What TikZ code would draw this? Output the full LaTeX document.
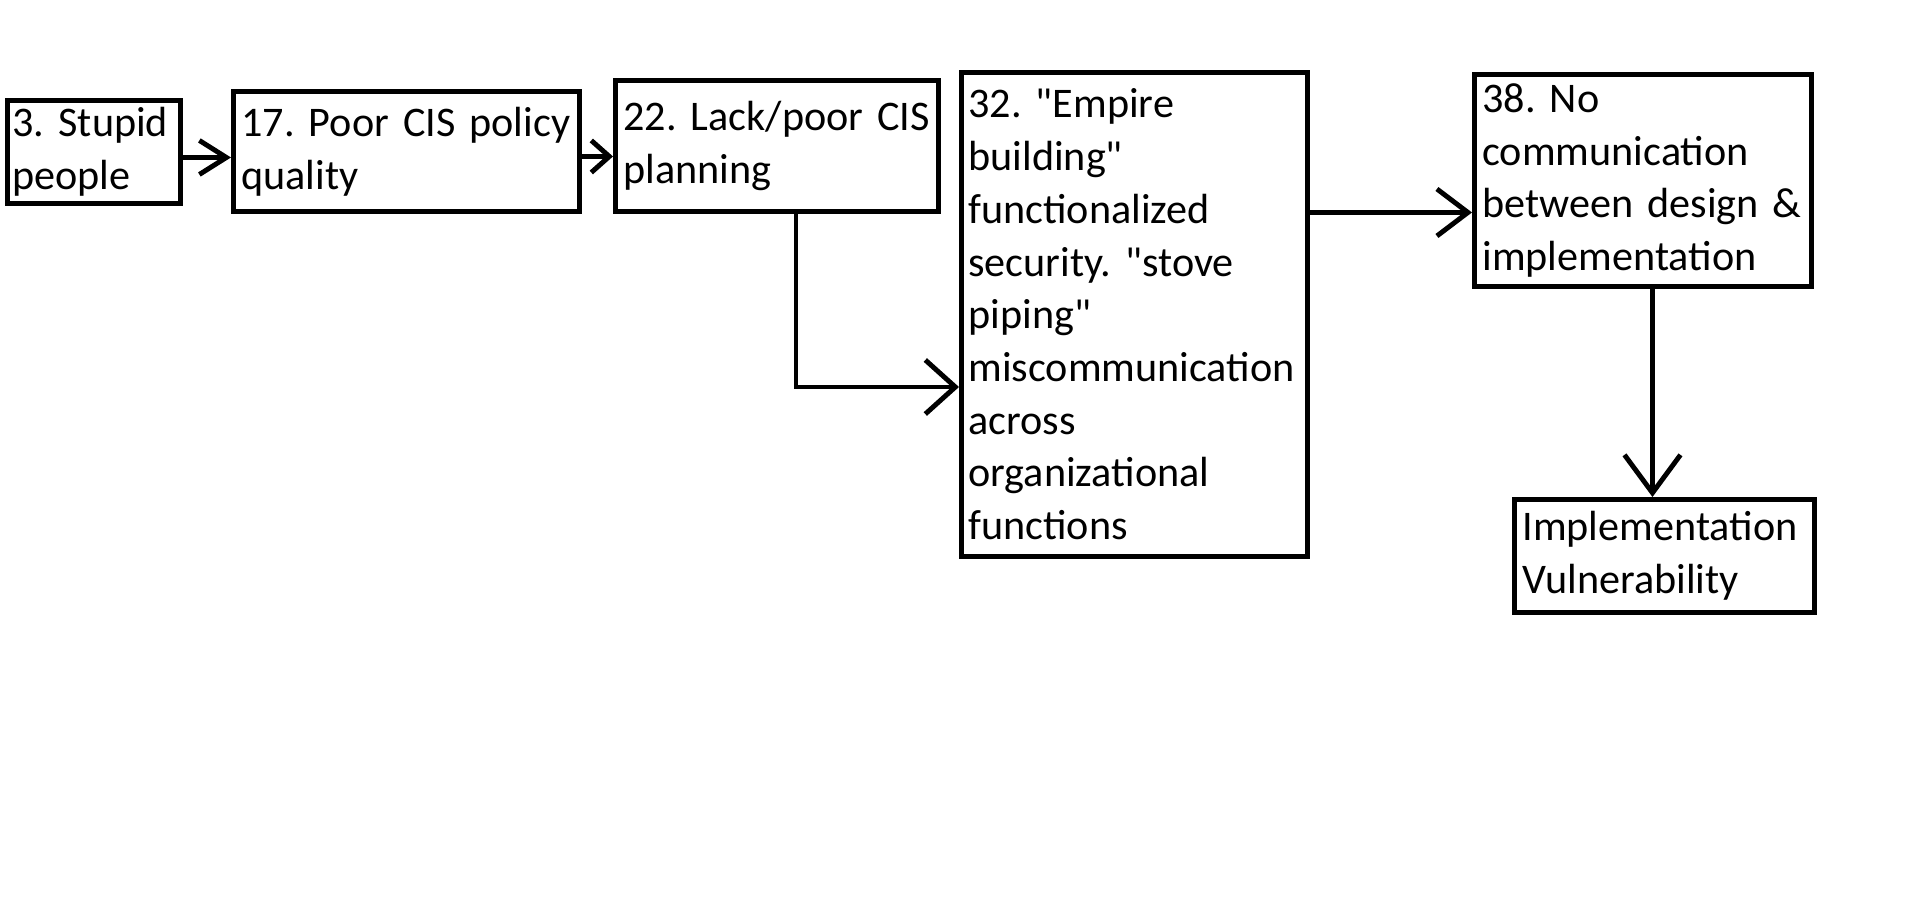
\documentclass[tikz,border=0pt]{standalone}
\usepackage{fontspec}
\setmainfont{Carlito}
\usetikzlibrary{arrows.meta, positioning, calc}
\newcommand{\dq}{\textquotedbl}

\begin{document}
\begin{tikzpicture}[
    cbox/.style={rectangle, draw=black, line width=1.4pt, anchor=north west, align=left,
                 inner xsep=0.8mm, inner ysep=0pt, text width=#1,
                 font=\fontsize{12}{15}\selectfont,
                 execute at begin node={\frenchspacing\hyphenpenalty=10000}},
    arr/.style 2 args={-{Straight Barb[length=#1, width=#2]}, line width=1.4pt}
]
\useasboundingbox (0,0) rectangle (19.14,-9.03);

\node[cbox=1.63cm, inner xsep=0.5mm, minimum height=1.03cm] (b3) at (0.05,-0.98) {3. Stupid\\people};
\node[cbox=3.30cm, minimum height=1.20cm] (b17) at (2.31,-0.89) {17. Poor~CIS~policy\\quality};
\node[cbox=3.07cm, minimum height=1.31cm] (b22) at (6.13,-0.78) {22. Lack/poor~CIS\\planning};
\node[cbox=3.32cm, inner xsep=0.7mm, minimum height=4.84cm] (b32) at (9.59,-0.70)
    {32. \dq Empire\\building\dq\\functionalized\\security. \dq stove\\piping\dq\\miscommunication\\across\\organizational\\functions};
\node[cbox=3.21cm, minimum height=2.12cm] (b38) at (14.72,-0.72)
    {38. No\\communication\\between~design~\&\\implementation};
\node[cbox=2.84cm, minimum height=1.13cm] (bimpl) at (15.12,-4.97) {Implementation\\Vulnerability};

\coordinate (bend) at (7.96,-3.87);

\draw[arr={2.7mm}{3.4mm}] ([yshift=-0.55mm]b3.east) -- ([yshift=-0.55mm]b3.east -| b17.west);
\draw[arr={1.8mm}{3.2mm}] ([yshift=-0.5mm]b17.east) -- ([yshift=-0.5mm]b17.east -| b22.west);
\draw[arr={3mm}{5.4mm}] (b22.south -| bend) -- (bend) -- (bend -| b32.west);
\draw[arr={3.1mm}{4.7mm}] ([yshift=-3.2mm]b38.west -| b32.east) -- ([yshift=-3.2mm]b38.west);
\draw[arr={3.8mm}{5.6mm}] ([xshift=0.95mm]b38.south) -- ([xshift=0.95mm]b38.south |- bimpl.north);
\end{tikzpicture}
\end{document}
